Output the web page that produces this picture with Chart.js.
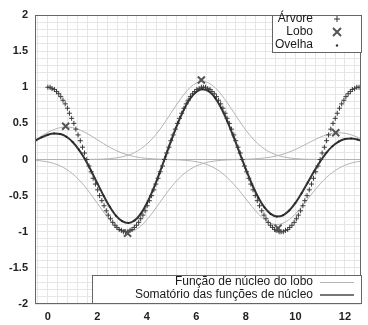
<!DOCTYPE html>
<html>
<head>
<meta charset="utf-8">
<script src="https://cdn.jsdelivr.net/npm/chart.js@4"></script>
<style>
  html, body { margin: 0; padding: 0; background: #fff; }
  canvas { display: block; }
</style>
</head>
<body>
<canvas id="chart" width="368" height="325"></canvas>
<script>
// x grid shared by the kernel curves and their sum
const gridX = [-0.5, -0.25, 0, 0.25, 0.5, 0.75, 1, 1.25, 1.5, 1.75, 2, 2.25, 2.5, 2.75, 3, 3.25, 3.5, 3.75,
  4, 4.25, 4.5, 4.75, 5, 5.25, 5.5, 5.75, 6, 6.25, 6.5, 6.75, 7, 7.25, 7.5, 7.75, 8, 8.25, 8.5, 8.75,
  9, 9.25, 9.5, 9.75, 10, 10.25, 10.5, 10.75, 11, 11.25, 11.5, 11.75, 12, 12.25, 12.5, 12.75];

// "Função de núcleo do lobo" - one bump per lobo point
const kernel1 = [0.273, 0.327, 0.376, 0.415, 0.441, 0.45, 0.441, 0.415, 0.376, 0.327, 0.273, 0.219, 0.169,
  0.125, 0.089, 0.061, 0.040, 0.025, 0.015, 0.009, 0.005, 0.003, 0.001,
  0, 0, 0, 0, 0, 0, 0, 0, 0, 0, 0, 0, 0, 0, 0, 0, 0, 0, 0, 0, 0, 0, 0, 0, 0, 0, 0, 0, 0, 0, 0];
const kernel2 = [-0.011, -0.020, -0.034, -0.056, -0.089, -0.135, -0.198, -0.278, -0.375, -0.487, -0.607,
  -0.726, -0.835, -0.923, -0.980, -1, -0.980, -0.923, -0.835, -0.726, -0.607, -0.487, -0.375, -0.278,
  -0.198, -0.135, -0.089, -0.056, -0.034, -0.020, -0.011, -0.006, -0.003, -0.002, -0.001,
  0, 0, 0, 0, 0, 0, 0, 0, 0, 0, 0, 0, 0, 0, 0, 0, 0, 0, 0];
const kernel3 = [0, 0, 0, 0, 0, 0, 0, 0, 0.001, 0.002, 0.003, 0.006, 0.012, 0.021, 0.037, 0.061, 0.096,
  0.146, 0.214, 0.300, 0.405, 0.526, 0.656, 0.784, 0.902, 0.997, 1.058, 1.08, 1.058, 0.997, 0.902,
  0.784, 0.656, 0.526, 0.405, 0.300, 0.214, 0.146, 0.096, 0.061, 0.037, 0.021, 0.012, 0.006, 0.003,
  0.002, 0.001, 0, 0, 0, 0, 0, 0, 0];
const kernel4 = [0, 0, 0, 0, 0, 0, 0, 0, 0, 0, 0, 0, 0, 0, 0, 0, 0, 0, 0, 0, -0.001, -0.001, -0.003,
  -0.005, -0.010, -0.018, -0.031, -0.050, -0.080, -0.122, -0.178, -0.250, -0.338, -0.438, -0.546,
  -0.653, -0.752, -0.831, -0.882, -0.9, -0.882, -0.831, -0.752, -0.653, -0.546, -0.438, -0.338,
  -0.250, -0.178, -0.122, -0.080, -0.050, -0.031, -0.018];
const kernel5 = [0, 0, 0, 0, 0, 0, 0, 0, 0, 0, 0, 0, 0, 0, 0, 0, 0, 0, 0, 0, 0, 0, 0, 0, 0, 0, 0, 0, 0,
  0, 0, 0.001, 0.001, 0.002, 0.004, 0.007, 0.013, 0.021, 0.033, 0.050, 0.073, 0.103, 0.139, 0.180,
  0.225, 0.269, 0.309, 0.342, 0.363, 0.37, 0.363, 0.342, 0.309, 0.269];

// "Somatório das funções de núcleo"
const somatorio = [0.262, 0.307, 0.342, 0.359, 0.352, 0.315, 0.243, 0.137, 0.002, -0.158, -0.331, -0.501,
  -0.654, -0.777, -0.854, -0.878, -0.844, -0.752, -0.606, -0.417, -0.198, 0.041, 0.279, 0.501, 0.694,
  0.844, 0.938, 0.974, 0.944, 0.855, 0.713, 0.529, 0.316, 0.088, -0.138, -0.346, -0.525, -0.664,
  -0.753, -0.789, -0.772, -0.707, -0.601, -0.467, -0.318, -0.167, -0.028, 0.092, 0.185, 0.248, 0.283,
  0.292, 0.278, 0.251];

// Árvore samples
const arvoreX = [0, 0.09, 0.17, 0.26, 0.35, 0.44, 0.52, 0.61, 0.70, 0.79, 0.87, 0.96, 1.05, 1.13, 1.22,
  1.31, 1.40, 1.48, 1.57, 1.66, 1.75, 1.83, 1.92, 2.01, 2.09, 2.18, 2.27, 2.36, 2.44, 2.53, 2.62, 2.71,
  2.79, 2.88, 2.97, 3.05, 3.14, 3.23, 3.32, 3.40, 3.49, 3.58, 3.67, 3.75, 3.84, 3.93, 4.01, 4.10, 4.19,
  4.28, 4.36, 4.45, 4.54, 4.63, 4.71, 4.80, 4.89, 4.97, 5.06, 5.15, 5.24, 5.32, 5.41, 5.50, 5.59, 5.67,
  5.76, 5.85, 5.93, 6.02, 6.11, 6.20, 6.28, 6.37, 6.46, 6.55, 6.63, 6.72, 6.81, 6.89, 6.98, 7.07, 7.16,
  7.24, 7.33, 7.42, 7.51, 7.59, 7.68, 7.77, 7.85, 7.94, 8.03, 8.12, 8.20, 8.29, 8.38, 8.46, 8.55, 8.64,
  8.73, 8.81, 8.90, 8.99, 9.08, 9.16, 9.25, 9.34, 9.42, 9.51, 9.60, 9.69, 9.77, 9.86, 9.95, 10.04,
  10.12, 10.21, 10.30, 10.38, 10.47, 10.56, 10.65, 10.73, 10.82, 10.91, 11.00, 11.08, 11.17, 11.26,
  11.34, 11.43, 11.52, 11.61, 11.69, 11.78, 11.87, 11.96, 12.04, 12.13, 12.22, 12.30, 12.39, 12.48, 12.57];
const arvoreY = [1, 1, 0.98, 0.97, 0.94, 0.91, 0.87, 0.82, 0.77, 0.71, 0.64, 0.57, 0.5, 0.42, 0.34, 0.26,
  0.17, 0.09, 0, -0.09, -0.17, -0.26, -0.34, -0.42, -0.5, -0.57, -0.64, -0.71, -0.77, -0.82, -0.87,
  -0.91, -0.94, -0.97, -0.98, -1, -1, -1, -0.98, -0.97, -0.94, -0.91, -0.87, -0.82, -0.77, -0.71, -0.64,
  -0.57, -0.5, -0.42, -0.34, -0.26, -0.17, -0.09, 0, 0.09, 0.17, 0.26, 0.34, 0.42, 0.5, 0.57, 0.64,
  0.71, 0.77, 0.82, 0.87, 0.91, 0.94, 0.97, 0.98, 1, 1,
  1, 0.98, 0.97, 0.94, 0.91, 0.87, 0.82, 0.77, 0.71, 0.64, 0.57, 0.5, 0.42, 0.34, 0.26,
  0.17, 0.09, 0, -0.09, -0.17, -0.26, -0.34, -0.42, -0.5, -0.57, -0.64, -0.71, -0.77, -0.82, -0.87,
  -0.91, -0.94, -0.97, -0.98, -1, -1, -1, -0.98, -0.97, -0.94, -0.91, -0.87, -0.82, -0.77, -0.71, -0.64,
  -0.57, -0.5, -0.42, -0.34, -0.26, -0.17, -0.09, 0, 0.09, 0.17, 0.26, 0.34, 0.42, 0.5, 0.57, 0.64,
  0.71, 0.77, 0.82, 0.87, 0.91, 0.94, 0.97, 0.98, 1, 1];

// Lobo points
const loboX = [0.72, 3.22, 6.2, 9.3, 11.63];
const loboY = [0.46, -1.02, 1.1, -0.95, 0.37];

// Ovelha dots sit on the summed curve
const ovelhaX = gridX;
const ovelhaY = somatorio;

// grid / tick positions and the ones that get a label
const xTicks = [-0.4, 0, 0.4, 0.8, 1.2, 1.6, 2, 2.4, 2.8, 3.2, 3.6, 4, 4.4, 4.8, 5.2, 5.6, 6, 6.4, 6.8,
  7.2, 7.6, 8, 8.4, 8.8, 9.2, 9.6, 10, 10.4, 10.8, 11.2, 11.6, 12, 12.4];
const xLabels = [0, 2, 4, 6, 8, 10, 12];
const yTicks = [-2, -1.9, -1.8, -1.7, -1.6, -1.5, -1.4, -1.3, -1.2, -1.1, -1, -0.9, -0.8, -0.7, -0.6,
  -0.5, -0.4, -0.3, -0.2, -0.1, 0, 0.1, 0.2, 0.3, 0.4, 0.5, 0.6, 0.7, 0.8, 0.9, 1, 1.1, 1.2, 1.3, 1.4,
  1.5, 1.6, 1.7, 1.8, 1.9, 2];
const yLabels = [-2, -1.5, -1, -0.5, 0, 0.5, 1, 1.5, 2];

const pts = (xs, ys) => xs.map((x, i) => ({ x: x, y: ys[i] }));
const hasLabel = (list, v) => list.some(l => Math.abs(l - v) < 1e-6);

const kernelStyle = {
  showLine: true, borderColor: "#b4b4b4", borderWidth: 1, pointRadius: 0,
  cubicInterpolationMode: "monotone"
};

const boxLegends = {
  id: "boxLegends",
  afterDraw(chart) {
    const ctx = chart.ctx;
    const a = chart.chartArea;
    ctx.save();
    // frame
    ctx.strokeStyle = "#666";
    ctx.lineWidth = 1;
    ctx.strokeRect(a.left + 0.5, a.top + 0.5, a.right - a.left - 1, a.bottom - a.top - 1);

    ctx.font = '12px "Liberation Sans", Arial, sans-serif';
    ctx.textAlign = "right";
    ctx.textBaseline = "middle";

    // top-right box
    ctx.fillStyle = "#fff";
    ctx.fillRect(272, 15, 89, 37);
    ctx.strokeStyle = "#666";
    ctx.strokeRect(272.5, 15.5, 89, 37);
    ctx.fillStyle = "#1a1a1a";
    ctx.fillText("Árvore", 313, 19);
    ctx.fillText("Lobo", 313, 32);
    ctx.fillText("Ovelha", 313, 45);
    ctx.strokeStyle = "#333";
    ctx.lineWidth = 1;
    ctx.beginPath();
    ctx.moveTo(334, 19); ctx.lineTo(340, 19);
    ctx.moveTo(337, 16); ctx.lineTo(337, 22);
    ctx.stroke();
    ctx.lineWidth = 2;
    ctx.strokeStyle = "#555";
    ctx.beginPath();
    ctx.moveTo(333, 28); ctx.lineTo(341, 36);
    ctx.moveTo(341, 28); ctx.lineTo(333, 36);
    ctx.stroke();
    ctx.fillStyle = "#333";
    ctx.beginPath();
    ctx.arc(337, 45.5, 1.2, 0, Math.PI * 2);
    ctx.fill();

    // bottom box
    ctx.fillStyle = "#fff";
    ctx.fillRect(92, 275, 269, 28);
    ctx.strokeStyle = "#666";
    ctx.lineWidth = 1;
    ctx.strokeRect(92.5, 275.5, 269, 28);
    ctx.fillStyle = "#1a1a1a";
    ctx.fillText("Função de núcleo do lobo", 313, 282);
    ctx.fillText("Somatório das funções de núcleo", 313, 295);
    ctx.strokeStyle = "#b4b4b4";
    ctx.beginPath();
    ctx.moveTo(320, 282.5); ctx.lineTo(354, 282.5);
    ctx.stroke();
    ctx.strokeStyle = "#777";
    ctx.lineWidth = 2;
    ctx.beginPath();
    ctx.moveTo(320, 295); ctx.lineTo(354, 295);
    ctx.stroke();
    ctx.restore();
  }
};

new Chart(document.getElementById("chart"), {
  type: "scatter",
  data: {
    datasets: [
      {
        label: "Lobo", data: pts(loboX, loboY), pointStyle: "crossRot", pointRadius: 5,
        pointBorderWidth: 2, pointBorderColor: "#555", pointBackgroundColor: "#555"
      },
      {
        label: "Árvore", data: pts(arvoreX, arvoreY), pointStyle: "cross", pointRadius: 2.5,
        pointBorderWidth: 1, pointBorderColor: "#3a3a3a"
      },
      {
        label: "Ovelha", data: pts(ovelhaX, ovelhaY), pointStyle: "circle", pointRadius: 1,
        pointBorderWidth: 0, pointBackgroundColor: "#222"
      },
      {
        label: "Somatório das funções de núcleo", data: pts(gridX, somatorio), showLine: true,
        borderColor: "#333", borderWidth: 2, pointRadius: 0, cubicInterpolationMode: "monotone"
      },
      Object.assign({ label: "Função de núcleo do lobo", data: pts(gridX, kernel1) }, kernelStyle),
      Object.assign({ label: "k2", data: pts(gridX, kernel2) }, kernelStyle),
      Object.assign({ label: "k3", data: pts(gridX, kernel3) }, kernelStyle),
      Object.assign({ label: "k4", data: pts(gridX, kernel4) }, kernelStyle),
      Object.assign({ label: "k5", data: pts(gridX, kernel5) }, kernelStyle)
    ]
  },
  options: {
    responsive: false,
    animation: false,
    layout: { padding: { top: 15, right: 6, left: 0, bottom: 0 } },
    plugins: { legend: { display: false }, tooltip: { enabled: false } },
    scales: {
      x: {
        type: "linear", min: -0.52, max: 12.65,
        afterBuildTicks: s => { s.ticks = xTicks.map(v => ({ value: v })); },
        afterFit: s => { s.height = 21; },
        grid: { color: "#e6e6e6", drawTicks: false },
        border: { display: false },
        ticks: {
          autoSkip: false, maxRotation: 0, padding: 6, color: "#222",
          font: { family: '"Liberation Sans", Arial, sans-serif', size: 11, weight: "bold" },
          callback: v => hasLabel(xLabels, v) ? String(v) : ""
        }
      },
      y: {
        min: -2, max: 2,
        afterBuildTicks: s => { s.ticks = yTicks.map(v => ({ value: v })); },
        afterFit: s => { s.width = 35; },
        grid: { color: "#e6e6e6", drawTicks: false },
        border: { display: false },
        ticks: {
          autoSkip: false, padding: 7, color: "#222",
          font: { family: '"Liberation Sans", Arial, sans-serif', size: 11, weight: "bold" },
          callback: v => hasLabel(yLabels, v) ? String(v) : ""
        }
      }
    }
  },
  plugins: [boxLegends]
});
</script>
</body>
</html>
